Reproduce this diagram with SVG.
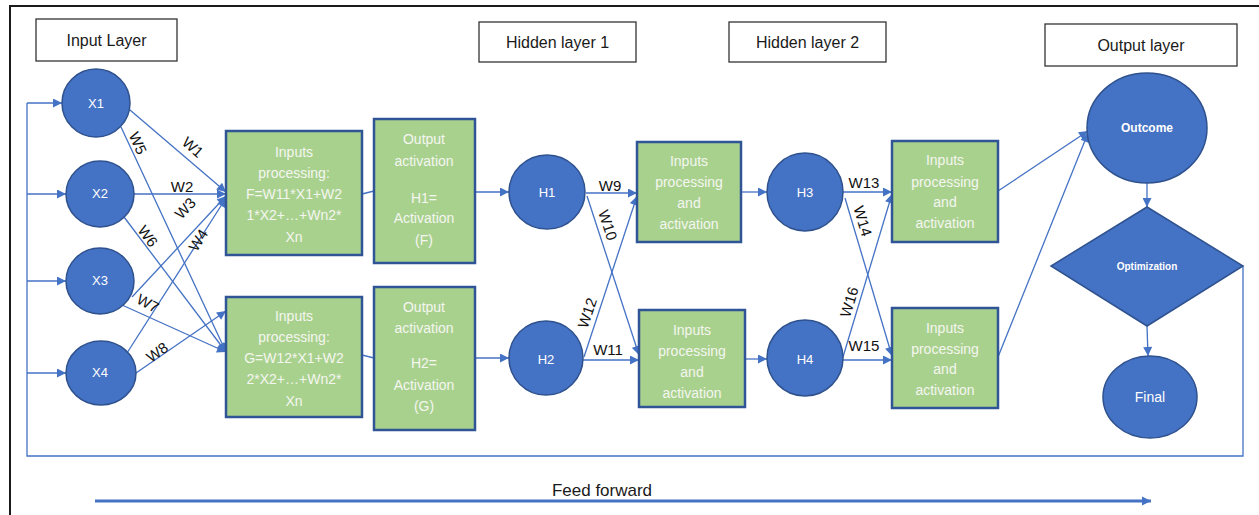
<svg xmlns="http://www.w3.org/2000/svg" width="1259" height="515" viewBox="0 0 1259 515">
  <defs>
    <style>
      .frame { fill: none; stroke: #1a1a1a; stroke-width: 2; }
      .title { fill: #ffffff; stroke: #333333; stroke-width: 1.3; }
      .title-t { font-family: "Liberation Sans", Arial, sans-serif; font-size: 16px; fill: #1a1a1a; text-anchor: middle; dominant-baseline: central; }
      .neuron { fill: #4472C4; stroke: #2F528F; stroke-width: 1.5; }
      .box { fill: #A9D18E; stroke: #2F5597; stroke-width: 2.5; }
      .ntext { font-family: "Liberation Sans", Arial, sans-serif; font-size: 13px; fill: #ffffff; text-anchor: middle; dominant-baseline: central; }
      .btext { font-family: "Liberation Sans", Arial, sans-serif; font-size: 14px; fill: #f4f6f0; text-anchor: middle; dominant-baseline: central; }
      .wlabel { font-family: "Liberation Sans", Arial, sans-serif; font-size: 15px; fill: #111111; text-anchor: middle; dominant-baseline: central; }
      .link { fill: none; stroke: #4472C4; stroke-width: 1.3; }
      .link-a { fill: none; stroke: #4472C4; stroke-width: 1.3; marker-end: url(#arrow); }
      .ff { fill: none; stroke: #4472C4; stroke-width: 3; marker-end: url(#arrowBig); }
    </style>
    <marker id="arrow" viewBox="0 0 10 10" refX="10" refY="5" markerWidth="11" markerHeight="9" markerUnits="userSpaceOnUse" orient="auto">
      <path d="M0,0 L10,5 L0,10 Z" fill="#4472C4"/>
    </marker>
    <marker id="arrowBig" viewBox="0 0 10 10" refX="10" refY="5" markerWidth="9" markerHeight="10" markerUnits="userSpaceOnUse" orient="auto">
      <path d="M0,0 L10,5 L0,10 Z" fill="#4472C4"/>
    </marker>
  </defs>

  <rect x="0" y="0" width="1259" height="515" fill="#ffffff"/>

  <!-- outer frame (top and left edges) -->
  <path class="frame" d="M10,515 L10,6 L1259,6"/>

  <!-- layer titles -->
  <g id="title-input"><rect class="title" x="36" y="19" width="141" height="42"/><text class="title-t" x="106.5" y="40">Input Layer</text></g>
  <g id="title-hidden1"><rect class="title" x="479" y="22" width="157" height="40"/><text class="title-t" x="557.5" y="42">Hidden layer 1</text></g>
  <g id="title-hidden2"><rect class="title" x="729" y="22" width="157" height="40"/><text class="title-t" x="807.5" y="42">Hidden layer 2</text></g>
  <g id="title-output"><rect class="title" x="1045" y="24" width="192" height="42"/><text class="title-t" x="1141" y="45">Output layer</text></g>

  <!-- connectors -->
  <g id="connectors">
    <!-- feedback loop from optimization back to the inputs -->
    <path class="link" d="M1243,266 L1243,456 L27,456 L27,103"/>
    <path class="link-a" d="M27,103 L62,103"/>
    <path class="link-a" d="M27,194 L66,194"/>
    <path class="link-a" d="M27,281 L66,281"/>
    <path class="link-a" d="M27,373 L66,373"/>

    <!-- inputs to first processing units -->
    <path class="link-a" d="M130,110 L226,192"/>
    <path class="link-a" d="M121,127 L226,352"/>
    <path class="link-a" d="M134,194 L226,194"/>
    <path class="link-a" d="M124,217 L226,352"/>
    <path class="link-a" d="M132,297 L226,196"/>
    <path class="link-a" d="M122,305 L226,352"/>
    <path class="link-a" d="M127,353 L226,198"/>
    <path class="link-a" d="M136,373 L226,311"/>

    <!-- processing to activation -->
    <path class="link" d="M362,194 L374,191"/>
    <path class="link" d="M362,355 L374,358"/>
    <path class="link-a" d="M475,192 L509,192"/>
    <path class="link-a" d="M475,358 L509,358"/>

    <!-- hidden layer 1 to hidden layer 2 -->
    <path class="link-a" d="M586,193 L637,193"/>
    <path class="link-a" d="M587,196 L639,355"/>
    <path class="link-a" d="M584,357 L637,196"/>
    <path class="link-a" d="M583,360 L639,360"/>
    <path class="link-a" d="M741,192 L767,192"/>
    <path class="link-a" d="M745,359 L767,359"/>

    <!-- hidden layer 2 to output processing -->
    <path class="link-a" d="M843,192 L892,192"/>
    <path class="link-a" d="M845,198 L892,356"/>
    <path class="link-a" d="M843,357 L892,194"/>
    <path class="link-a" d="M843,360 L892,360"/>

    <!-- output path -->
    <path class="link-a" d="M998,191 L1088,131"/>
    <path class="link-a" d="M998,357 L1088,133"/>
    <path class="link-a" d="M1147,183 L1147,207"/>
    <path class="link-a" d="M1147,326 L1148,356"/>

    <!-- weight labels -->
    <text class="wlabel" transform="translate(193,147) rotate(41)">W1</text>
    <text class="wlabel" transform="translate(138,143) rotate(66)">W5</text>
    <text class="wlabel" x="182" y="186">W2</text>
    <text class="wlabel" transform="translate(185,208) rotate(-46)">W3</text>
    <text class="wlabel" transform="translate(148,236) rotate(54)">W6</text>
    <text class="wlabel" transform="translate(198,240) rotate(-58)">W4</text>
    <text class="wlabel" transform="translate(148,303) rotate(28)">W7</text>
    <text class="wlabel" transform="translate(157,352) rotate(-35)">W8</text>
    <text class="wlabel" x="610" y="185">W9</text>
    <text class="wlabel" transform="translate(608,225) rotate(72)">W10</text>
    <text class="wlabel" transform="translate(587,313) rotate(-71)">W12</text>
    <text class="wlabel" x="608" y="349">W11</text>
    <text class="wlabel" x="864" y="182">W13</text>
    <text class="wlabel" transform="translate(863,221) rotate(73)">W14</text>
    <text class="wlabel" transform="translate(849,302) rotate(-73)">W16</text>
    <text class="wlabel" x="864" y="345">W15</text>
  </g>

  <!-- input neurons -->
  <g id="x1"><ellipse class="neuron" cx="96" cy="103" rx="34" ry="34"/><text class="ntext" x="96" y="103">X1</text></g>
  <g id="x2"><ellipse class="neuron" cx="100" cy="194" rx="34" ry="33"/><text class="ntext" x="100" y="193">X2</text></g>
  <g id="x3"><ellipse class="neuron" cx="100" cy="281" rx="34" ry="33"/><text class="ntext" x="100" y="280">X3</text></g>
  <g id="x4"><ellipse class="neuron" cx="101" cy="373" rx="35" ry="32"/><text class="ntext" x="100" y="372">X4</text></g>

  <!-- first processing units -->
  <g id="proc-f">
    <rect class="box" x="226" y="131" width="136" height="124"/>
    <text class="btext" x="294" y="152">Inputs</text>
    <text class="btext" x="294" y="173">processing:</text>
    <text class="btext" x="294" y="194">F=W11*X1+W2</text>
    <text class="btext" x="294" y="215">1*X2+…+Wn2*</text>
    <text class="btext" x="294" y="237">Xn</text>
  </g>
  <g id="proc-g">
    <rect class="box" x="226" y="297" width="136" height="120"/>
    <text class="btext" x="294" y="316">Inputs</text>
    <text class="btext" x="294" y="337">processing:</text>
    <text class="btext" x="294" y="358">G=W12*X1+W2</text>
    <text class="btext" x="294" y="379">2*X2+…+Wn2*</text>
    <text class="btext" x="294" y="401">Xn</text>
  </g>

  <!-- activation units -->
  <g id="act-h1">
    <rect class="box" x="374" y="119" width="101" height="144"/>
    <text class="btext" x="424" y="139">Output</text>
    <text class="btext" x="424" y="161">activation</text>
    <text class="btext" x="424" y="198">H1=</text>
    <text class="btext" x="424" y="218">Activation</text>
    <text class="btext" x="424" y="240">(F)</text>
  </g>
  <g id="act-h2">
    <rect class="box" x="374" y="287" width="101" height="143"/>
    <text class="btext" x="424" y="307">Output</text>
    <text class="btext" x="424" y="328">activation</text>
    <text class="btext" x="424" y="363">H2=</text>
    <text class="btext" x="424" y="385">Activation</text>
    <text class="btext" x="424" y="406">(G)</text>
  </g>

  <!-- hidden layer 1 neurons -->
  <g id="h1"><ellipse class="neuron" cx="547" cy="192" rx="38" ry="37"/><text class="ntext" x="547" y="192">H1</text></g>
  <g id="h2"><ellipse class="neuron" cx="546" cy="358" rx="37" ry="37"/><text class="ntext" x="546" y="359">H2</text></g>

  <!-- hidden layer 2 processing -->
  <g id="proc-h3">
    <rect class="box" x="637" y="142" width="104" height="100"/>
    <text class="btext" x="689" y="161">Inputs</text>
    <text class="btext" x="689" y="182">processing</text>
    <text class="btext" x="689" y="203">and</text>
    <text class="btext" x="689" y="224">activation</text>
  </g>
  <g id="proc-h4">
    <rect class="box" x="639" y="310" width="106" height="97"/>
    <text class="btext" x="692" y="330">Inputs</text>
    <text class="btext" x="692" y="351">processing</text>
    <text class="btext" x="692" y="372">and</text>
    <text class="btext" x="692" y="393">activation</text>
  </g>

  <!-- hidden layer 2 neurons -->
  <g id="h3"><ellipse class="neuron" cx="805" cy="192" rx="38" ry="39"/><text class="ntext" x="805" y="192">H3</text></g>
  <g id="h4"><ellipse class="neuron" cx="805" cy="358" rx="38" ry="38"/><text class="ntext" x="805" y="359">H4</text></g>

  <!-- output processing -->
  <g id="proc-o1">
    <rect class="box" x="892" y="141" width="106" height="101"/>
    <text class="btext" x="945" y="160">Inputs</text>
    <text class="btext" x="945" y="182">processing</text>
    <text class="btext" x="945" y="202">and</text>
    <text class="btext" x="945" y="223">activation</text>
  </g>
  <g id="proc-o2">
    <rect class="box" x="892" y="308" width="106" height="100"/>
    <text class="btext" x="945" y="328">Inputs</text>
    <text class="btext" x="945" y="349">processing</text>
    <text class="btext" x="945" y="369">and</text>
    <text class="btext" x="945" y="390">activation</text>
  </g>

  <!-- output stage -->
  <g id="outcome"><ellipse class="neuron" cx="1147" cy="128" rx="60" ry="55"/><text class="ntext" x="1147" y="128" style="font-size:12px;font-weight:bold">Outcome</text></g>
  <g id="optimization"><polygon class="neuron" points="1147,207 1243,266 1147,326 1051,266"/><text class="ntext" x="1147" y="266" style="font-size:10px;font-weight:bold">Optimization</text></g>
  <g id="final"><ellipse class="neuron" cx="1150" cy="397" rx="47" ry="41"/><text class="ntext" x="1150" y="397" style="font-size:14px">Final</text></g>

  <!-- feed forward direction -->
  <g id="feed-forward">
    <path class="ff" d="M95,501 L1151,501"/>
    <text class="title-t" x="602" y="490" style="font-size:17px">Feed forward</text>
  </g>
</svg>
